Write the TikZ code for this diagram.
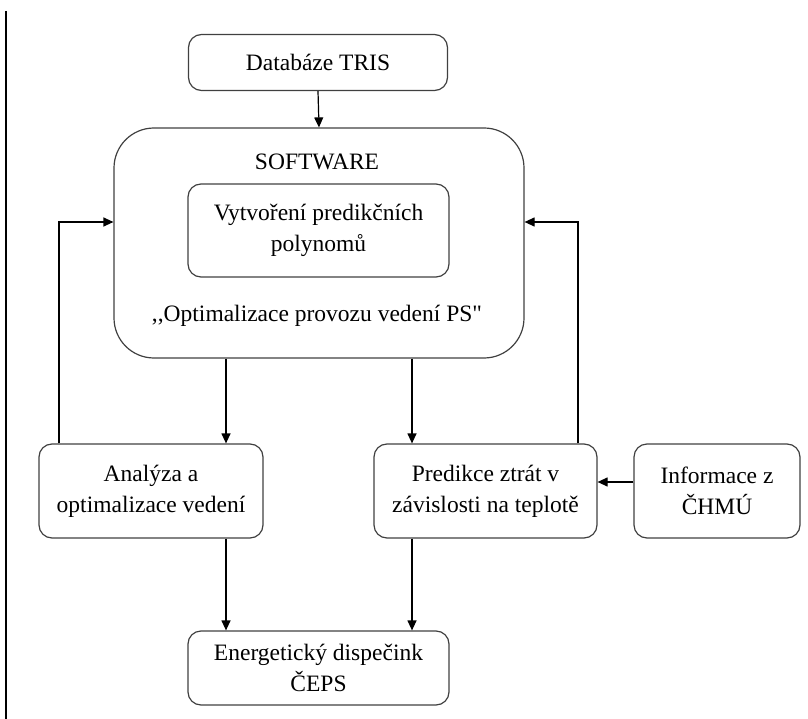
\documentclass[tikz,border=0pt]{standalone}
\usepackage{fontspec}
\setmainfont{Liberation Serif}[Ligatures=TeXOff]
\usepackage{tikz}
\usetikzlibrary{positioning,arrows.meta,calc}

\tikzset{
  box/.style={draw=black!75,line width=1.2pt,rounded corners=13pt,align=center},
  arr/.style={line width=1.2pt,-{Triangle[length=10pt,width=9pt]}},
}

\begin{document}
\begin{tikzpicture}[
  x=1pt,y=-1pt,
  every node/.style={font=\fontsize{23.5}{31}\selectfont}
]
\useasboundingbox (0,0) rectangle (808,719);

% okraj stranky
\draw[line width=1.3pt] (6,11) -- (6,719);

% zdroj dat
\node[box,minimum width=259pt,minimum height=56pt] (tris) at (318,62.5) {Databáze TRIS};

% software
\node[box,rounded corners=40pt,minimum width=410pt,minimum height=230pt] (sw) at (319,243) {};
\node (swtitle) at (317,162) {SOFTWARE};
\node[box,minimum width=261pt,minimum height=93pt] (poly) at (318.5,230.5)
  {Vytvoření predikčních\\polynomů};
\node (swname) at (317,316) {,,Optimalizace provozu vedení PS"};

% vystupy
\node[box,minimum width=224pt,minimum height=94pt] (anal) at (151,491)
  {Analýza a\\optimalizace vedení};
\node[box,minimum width=223pt,minimum height=94pt] (pred) at (485.5,491)
  {Predikce ztrát v\\závislosti na teplotě};
\node[box,minimum width=166pt,minimum height=94pt] (info) at (717,491)
  {Informace z\\ČHMÚ};
\node[box,minimum width=261pt,minimum height=74pt] (ceps) at (318.5,668)
  {Energetický dispečink\\ČEPS};

% sipky
\draw[arr] (tris.south) -- (sw.north);
\draw[arr] ([xshift=75]anal.north |- sw.south) -- ([xshift=75]anal.north);
\draw[arr] ([xshift=-73.5]pred.north |- sw.south) -- ([xshift=-73.5]pred.north);
\draw[arr] ([xshift=-92]anal.north) |- ([yshift=21]sw.west);
\draw[arr] ([xshift=92.5]pred.north) |- ([yshift=21]sw.east);
\draw[arr] ([yshift=9]info.west) -- ([yshift=9]pred.east);
\draw[arr] ([xshift=75]anal.south) -- ([xshift=75]anal.south |- ceps.north);
\draw[arr] ([xshift=-73.5]pred.south) -- ([xshift=-73.5]pred.south |- ceps.north);

\end{tikzpicture}
\end{document}
